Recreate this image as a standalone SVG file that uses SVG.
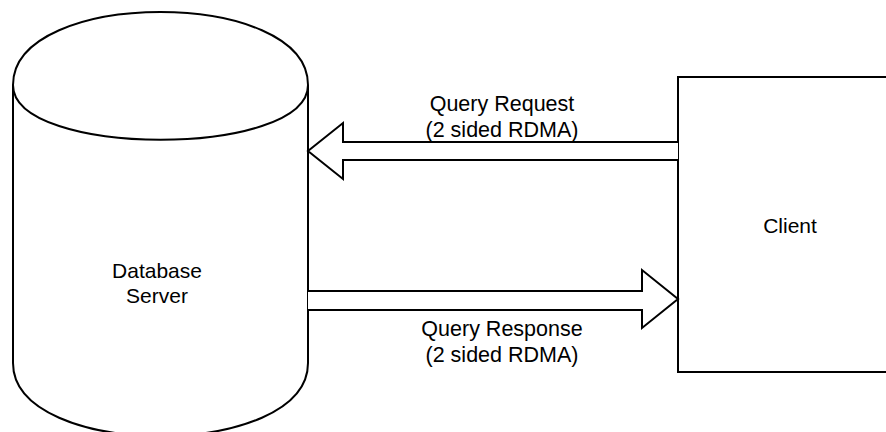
<svg xmlns="http://www.w3.org/2000/svg" width="886" height="432" viewBox="0 0 886 432">
  <style>
    .shape { fill: #ffffff; stroke: #000000; stroke-width: 2; stroke-linejoin: miter; }
    .line { fill: none; stroke: #000000; stroke-width: 2; }
    .label { font-family: "Liberation Sans", Arial, Helvetica, sans-serif; font-size: 21px; fill: #000000; text-anchor: middle; }
    .edge-label { font-size: 21.5px; }
  </style>
  <rect x="0" y="0" width="886" height="432" fill="#ffffff"/>

  <!-- database cylinder: x 13..308, top 12, body height 424, cap depth 73 -->
  <g id="database-server">
    <path class="shape" d="M13,85 C13,-12.3 308,-12.3 308,85 L308,363 C308,460.3 13,460.3 13,363 Z"/>
    <path class="line" d="M13,85 C13,158 308,158 308,85"/>
    <text class="label" x="157" y="278">Database</text>
    <text class="label" x="157" y="303">Server</text>
  </g>

  <!-- client box, running past the right edge -->
  <g id="client">
    <rect class="shape" x="678" y="77" width="224" height="295"/>
    <text class="label" x="790" y="233">Client</text>
  </g>

  <!-- wide block arrows between the two nodes -->
  <g id="connectors">
    <g id="query-request">
      <path class="shape" d="M678,142 L343,142 L343,123 L308,151 L343,179 L343,160 L678,160"/>
      <text class="label edge-label" x="502" y="111">Query Request</text>
      <text class="label edge-label" x="502" y="137">(2 sided RDMA)</text>
    </g>
    <g id="query-response">
      <path class="shape" d="M308,291 L642,291 L642,270 L678,299 L642,328 L642,310 L308,310"/>
      <text class="label edge-label" x="502" y="336">Query Response</text>
      <text class="label edge-label" x="502" y="362">(2 sided RDMA)</text>
    </g>
  </g>
</svg>
